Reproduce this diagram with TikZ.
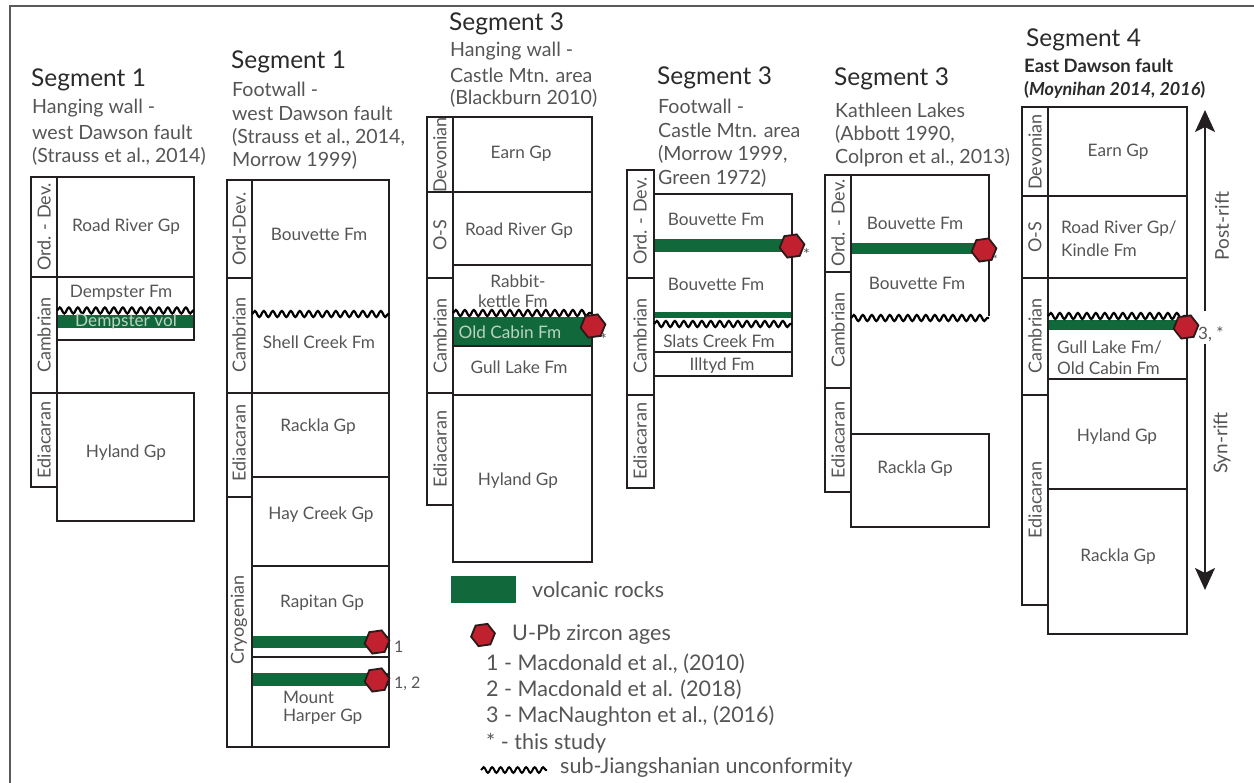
\documentclass[tikz,border=0pt]{standalone}
\usepackage{fontspec}
\setmainfont{Lato}
\usetikzlibrary{shapes.geometric,decorations.pathmorphing,arrows.meta}
\definecolor{vgreen}{HTML}{11683B}
\definecolor{hexred}{HTML}{C1202F}
\definecolor{hexdark}{HTML}{2A1A1A}
\definecolor{txt}{HTML}{555555}
\definecolor{ttl}{HTML}{2B2B2B}
\definecolor{edge}{HTML}{231F20}
\definecolor{frame}{HTML}{5A5A5A}
\definecolor{ongreen}{HTML}{B9D3C0}
\tikzset{
  lay/.style={draw=edge, line width=2.2pt},
  volc/.style={fill=vgreen, draw=none},
  wavy/.style={draw=black, line width=2.2pt, decorate, decoration={snake, segment length=9pt, amplitude=3pt}},
  hex/.style={regular polygon, regular polygon sides=6, minimum size=25pt, inner sep=0pt, fill=hexred, draw=hexdark, line width=1.8pt, shape border rotate=8},
  lbl/.style={text=txt, font=\fontsize{17.2}{20}\selectfont, inner sep=0pt},
  lbll/.style={lbl, anchor=west},
  age/.style={text=txt, font=\fontsize{18}{21}\selectfont, rotate=90, inner sep=0pt},
  seg/.style={text=ttl, font=\fontsize{24.5}{28}\selectfont, anchor=west, inner sep=0pt},
  sub/.style={text=txt, font=\fontsize{19.6}{23}\selectfont, anchor=west, inner sep=0pt},
  leg/.style={text=txt, font=\fontsize{21.5}{25}\selectfont, anchor=west, inner sep=0pt},
  note/.style={text=txt, font=\fontsize{16}{18}\selectfont, anchor=west, inner sep=0pt},
  rift/.style={draw=edge, line width=1.8pt, -{Stealth[width=20pt,length=22pt,inset=5pt]}},
}
\begin{document}
\begin{tikzpicture}[x=1pt,y=-1pt]
\useasboundingbox (0,0) rectangle (1254,783);
% frame
\draw[frame, line width=2pt] (10,783) -- (10,6) -- (1254,6);

% ================= Column 1 =================
\node[seg] (t1) at (31,80) {Segment 1};
\node[sub] (t1a) at (32,108) {Hanging wall -};
\node[sub] (t1b) at (32,132) {west Dawson fault};
\node[sub] (t1c) at (32,156) {(Strauss et al., 2014)};
\fill[volc] (57,315) rectangle (194,328);
\draw[lay] (31,177) rectangle (57,277);
\draw[lay] (31,277) rectangle (57,393);
\draw[lay] (31,393) rectangle (57,487);
\draw[lay] (57,177) rectangle (194,277);
\draw[lay] (57,277) rectangle (194,340);
\draw[lay] (57,393) rectangle (194,521);
\draw[wavy] (57,310.5) -- (194,310.5);
\node[age] (a1a) at (44,227) {Ord. - Dev.};
\node[age] (a1b) at (44,335) {Cambrian};
\node[age] (a1c) at (44,440) {Ediacaran};
\node[lbl] (l1a) at (126,227) {Road River Gp};
\node[lbl] (l1b) at (121,293) {Dempster Fm};
\node[lbl, text=ongreen] (l1c) at (126,322) {Dempster vol};
\node[lbl] (l1d) at (126,453) {Hyland Gp};

% ================= Column 2 =================
\node[seg] (t2) at (231,62) {Segment 1};
\node[sub] (t2a) at (232,89) {Footwall -};
\node[sub] (t2b) at (232,113) {west Dawson fault};
\node[sub] (t2c) at (232,137) {(Strauss et al., 2014,};
\node[sub] (t2d) at (232,160) {Morrow 1999)};
\fill[volc] (252,636) rectangle (389,648);
\fill[volc] (252,673) rectangle (389,686);
\draw[lay] (227,180) rectangle (252,278);
\draw[lay] (227,278) rectangle (252,393);
\draw[lay] (227,393) rectangle (252,497);
\draw[lay] (227,497) rectangle (252,747);
\draw[lay] (252,180) rectangle (389,393);
\draw[lay] (252,393) rectangle (389,477);
\draw[lay] (252,477) rectangle (389,566);
\draw[lay] (252,566) rectangle (389,657);
\draw[lay] (252,657) rectangle (389,747);
\draw[wavy] (252,314) -- (389,314);
\node[age] (a2a) at (239,229) {Ord-Dev.};
\node[age] (a2b) at (239,335) {Cambrian};
\node[age] (a2c) at (239,443) {Ediacaran};
\node[age] (a2d) at (239,620) {Cryogenian};
\node[lbl] (l2a) at (319,234) {Bouvette Fm};
\node[lbl] (l2b) at (319,342) {Shell Creek Fm};
\node[lbl] (l2c) at (318,427) {Rackla Gp};
\node[lbl] (l2d) at (321,515) {Hay Creek Gp};
\node[lbl] (l2e) at (322,603) {Rapitan Gp};
\node[lbll] (l2f) at (283,697) {Mount};
\node[lbll] (l2g) at (283,717) {Harper Gp};
\node[hex] (h2a) at (377,642) {};
\node[hex] (h2b) at (377,680) {};
\node[note] (n2a) at (394,647) {1};
\node[note] (n2b) at (394,684) {1, 2};

% ================= Column 3 =================
\node[seg] (t3) at (449,24) {Segment 3};
\node[sub] (t3a) at (450,51) {Hanging wall -};
\node[sub] (t3b) at (450,75) {Castle Mtn. area};
\node[sub] (t3c) at (450,98) {(Blackburn 2010)};
\fill[volc] (453,317) rectangle (592,346);
\draw[lay] (427,117) rectangle (453,192);
\draw[lay] (427,192) rectangle (453,278);
\draw[lay] (427,278) rectangle (453,393);
\draw[lay] (427,393) rectangle (453,505);
\draw[lay] (453,117) rectangle (592,192);
\draw[lay] (453,192) rectangle (592,265);
\draw[lay] (453,265) rectangle (592,395);
\draw[lay] (453,346) -- (592,346);
\draw[lay] (453,395) rectangle (592,562);
\draw[wavy] (453,313) -- (592,313);
\node[age] (a3a) at (440,155) {Devonian};
\node[age] (a3b) at (440,235) {O-S};
\node[age] (a3c) at (440,336) {Cambrian};
\node[age] (a3d) at (440,449) {Ediacaran};
\node[lbl] (l3a) at (521,154) {Earn Gp};
\node[lbl] (l3b) at (519,231) {Road River Gp};
\node[lbl] (l3c) at (518,281) {Rabbit-};
\node[lbl] (l3d) at (513,301) {kettle Fm};
\node[lbl, text=ongreen] (l3e) at (510,332) {Old Cabin Fm};
\node[lbl] (l3f) at (519,367) {Gull Lake Fm};
\node[lbl] (l3g) at (518,481) {Hyland Gp};
\node[hex] (h3) at (593,326) {};
\node[note] (n3) at (600,339) {*};

% ================= Column 4 =================
\node[seg] (t4) at (657,78) {Segment 3};
\node[sub] (t4a) at (658,106) {Footwall -};
\node[sub] (t4b) at (658,130) {Castle Mtn. area};
\node[sub] (t4c) at (658,154) {(Morrow 1999,};
\node[sub] (t4d) at (658,178) {Green 1972)};
\fill[volc] (654,239) rectangle (792,252);
\fill[volc] (654,312) rectangle (792,318);
\draw[lay] (627,170) rectangle (654,278);
\draw[lay] (627,278) rectangle (654,395);
\draw[lay] (627,395) rectangle (654,488);
\draw[lay] (654,194) rectangle (792,376);
\draw[lay] (654,352) -- (792,352);
\draw[wavy] (654,324) -- (792,324);
\node[age] (a4a) at (640,221) {Ord. - Dev.};
\node[age] (a4b) at (640,336) {Cambrian};
\node[age] (a4c) at (640,441) {Ediacaran};
\node[lbl] (l4a) at (716,219) {Bouvette Fm};
\node[lbl] (l4b) at (716,284) {Bouvette Fm};
\node[lbl] (l4c) at (719,341) {Slats Creek Fm};
\node[lbl] (l4d) at (722,366) {Illtyd Fm};
\node[hex] (h4) at (792,246) {};
\node[note] (n4) at (803,254) {*};

% ================= Column 5 =================
\node[seg] (t5) at (834,79) {Segment 3};
\node[sub] (t5a) at (835,110) {Kathleen Lakes};
\node[sub] (t5b) at (835,134) {(Abbott 1990,};
\node[sub] (t5c) at (835,158) {Colpron et al., 2013)};
\fill[volc] (851,243) rectangle (989,254);
\draw[lay] (825,175) rectangle (851,272);
\draw[lay] (825,272) rectangle (851,388);
\draw[lay] (825,388) rectangle (851,492);
\draw[lay] (851,175) -- (989,175) -- (989,316);
\draw[lay] (851,434) rectangle (989,527);
\draw[wavy] (851,318) -- (989,318);
\node[age] (a5a) at (838,223) {Ord. - Dev.};
\node[age] (a5b) at (838,330) {Cambrian};
\node[age] (a5c) at (838,440) {Ediacaran};
\node[lbl] (l5a) at (915,223) {Bouvette Fm};
\node[lbl] (l5b) at (917,283) {Bouvette Fm};
\node[lbl] (l5c) at (915,469) {Rackla Gp};
\node[hex] (h5) at (984,250) {};
\node[note, font=\fontsize{11}{13}\selectfont] (n5) at (993,259) {*};

% ================= Column 6 =================
\node[seg] (t6) at (1026,40) {Segment 4};
\node[sub, text=ttl, font=\fontsize{18.5}{22}\selectfont\bfseries] (t6a) at (1024,66) {East Dawson fault};
\node[sub, text=ttl, font=\fontsize{18}{22}\selectfont\bfseries] (t6b) at (1024,90) {(\textit{Moynihan 2014, 2016})};
\fill[volc] (1048,320) rectangle (1187,330);
\draw[lay] (1022,107) rectangle (1048,196);
\draw[lay] (1022,196) rectangle (1048,278);
\draw[lay] (1022,278) rectangle (1048,395);
\draw[lay] (1022,395) rectangle (1048,605);
\draw[lay] (1048,107) rectangle (1187,196);
\draw[lay] (1048,196) rectangle (1187,278);
\draw[lay] (1048,278) rectangle (1187,379);
\draw[lay] (1048,379) rectangle (1187,489);
\draw[lay] (1048,489) rectangle (1187,634);
\draw[wavy] (1048,316) -- (1187,316);
\node[age] (a6a) at (1035,152) {Devonian};
\node[age] (a6b) at (1035,237) {O-S};
\node[age] (a6c) at (1035,336) {Cambrian};
\node[age] (a6d) at (1035,500) {Ediacaran};
\node[lbl] (l6a) at (1118,152) {Earn Gp};
\node[lbll] (l6b) at (1061,229) {Road River Gp/};
\node[lbll] (l6c) at (1061,250) {Kindle Fm};
\node[lbll] (l6d) at (1057,348) {Gull Lake Fm/};
\node[lbll] (l6e) at (1057,368) {Old Cabin Fm};
\node[lbl] (l6f) at (1117,437) {Hyland Gp};
\node[lbl] (l6g) at (1118,557) {Rackla Gp};
\node[hex] (h6) at (1186,327) {};
\node[note, font=\fontsize{17}{20}\selectfont] (n6) at (1198,334) {3, *};
\coordinate (pr0) at (1205,311);
\coordinate (pr1) at (1205,110);
\coordinate (sr0) at (1205,344);
\coordinate (sr1) at (1205,590);
\draw[rift] (pr0) -- (pr1);
\draw[rift] (sr0) -- (sr1);
\node[age, font=\fontsize{19}{22}\selectfont] (post) at (1222,226) {Post-rift};
\node[age, font=\fontsize{19}{22}\selectfont] (syn) at (1222,443) {Syn-rift};

% ================= Legend =================
\fill[volc] (451,576) rectangle (516,603);
\node[leg] (g1) at (532,590) {volcanic rocks};
\node[hex, minimum size=24pt] (g2h) at (483,635) {};
\node[leg] (g2) at (512,635) {U-Pb zircon ages};
\node[leg] (g3) at (486,664) {1 - Macdonald et al., (2010)};
\node[leg] (g4) at (486,690) {2 - Macdonald et al. (2018)};
\node[leg] (g5) at (486,716) {3 - MacNaughton et al., (2016)};
\node[leg] (g6) at (486,743) {* - this study};
\draw[wavy, line width=2pt, decoration={snake, segment length=8.5pt, amplitude=2.8pt}] (481,770) -- (547,770);
\node[leg] (g7) at (560,768) {sub-Jiangshanian unconformity};
\end{tikzpicture}
\end{document}
